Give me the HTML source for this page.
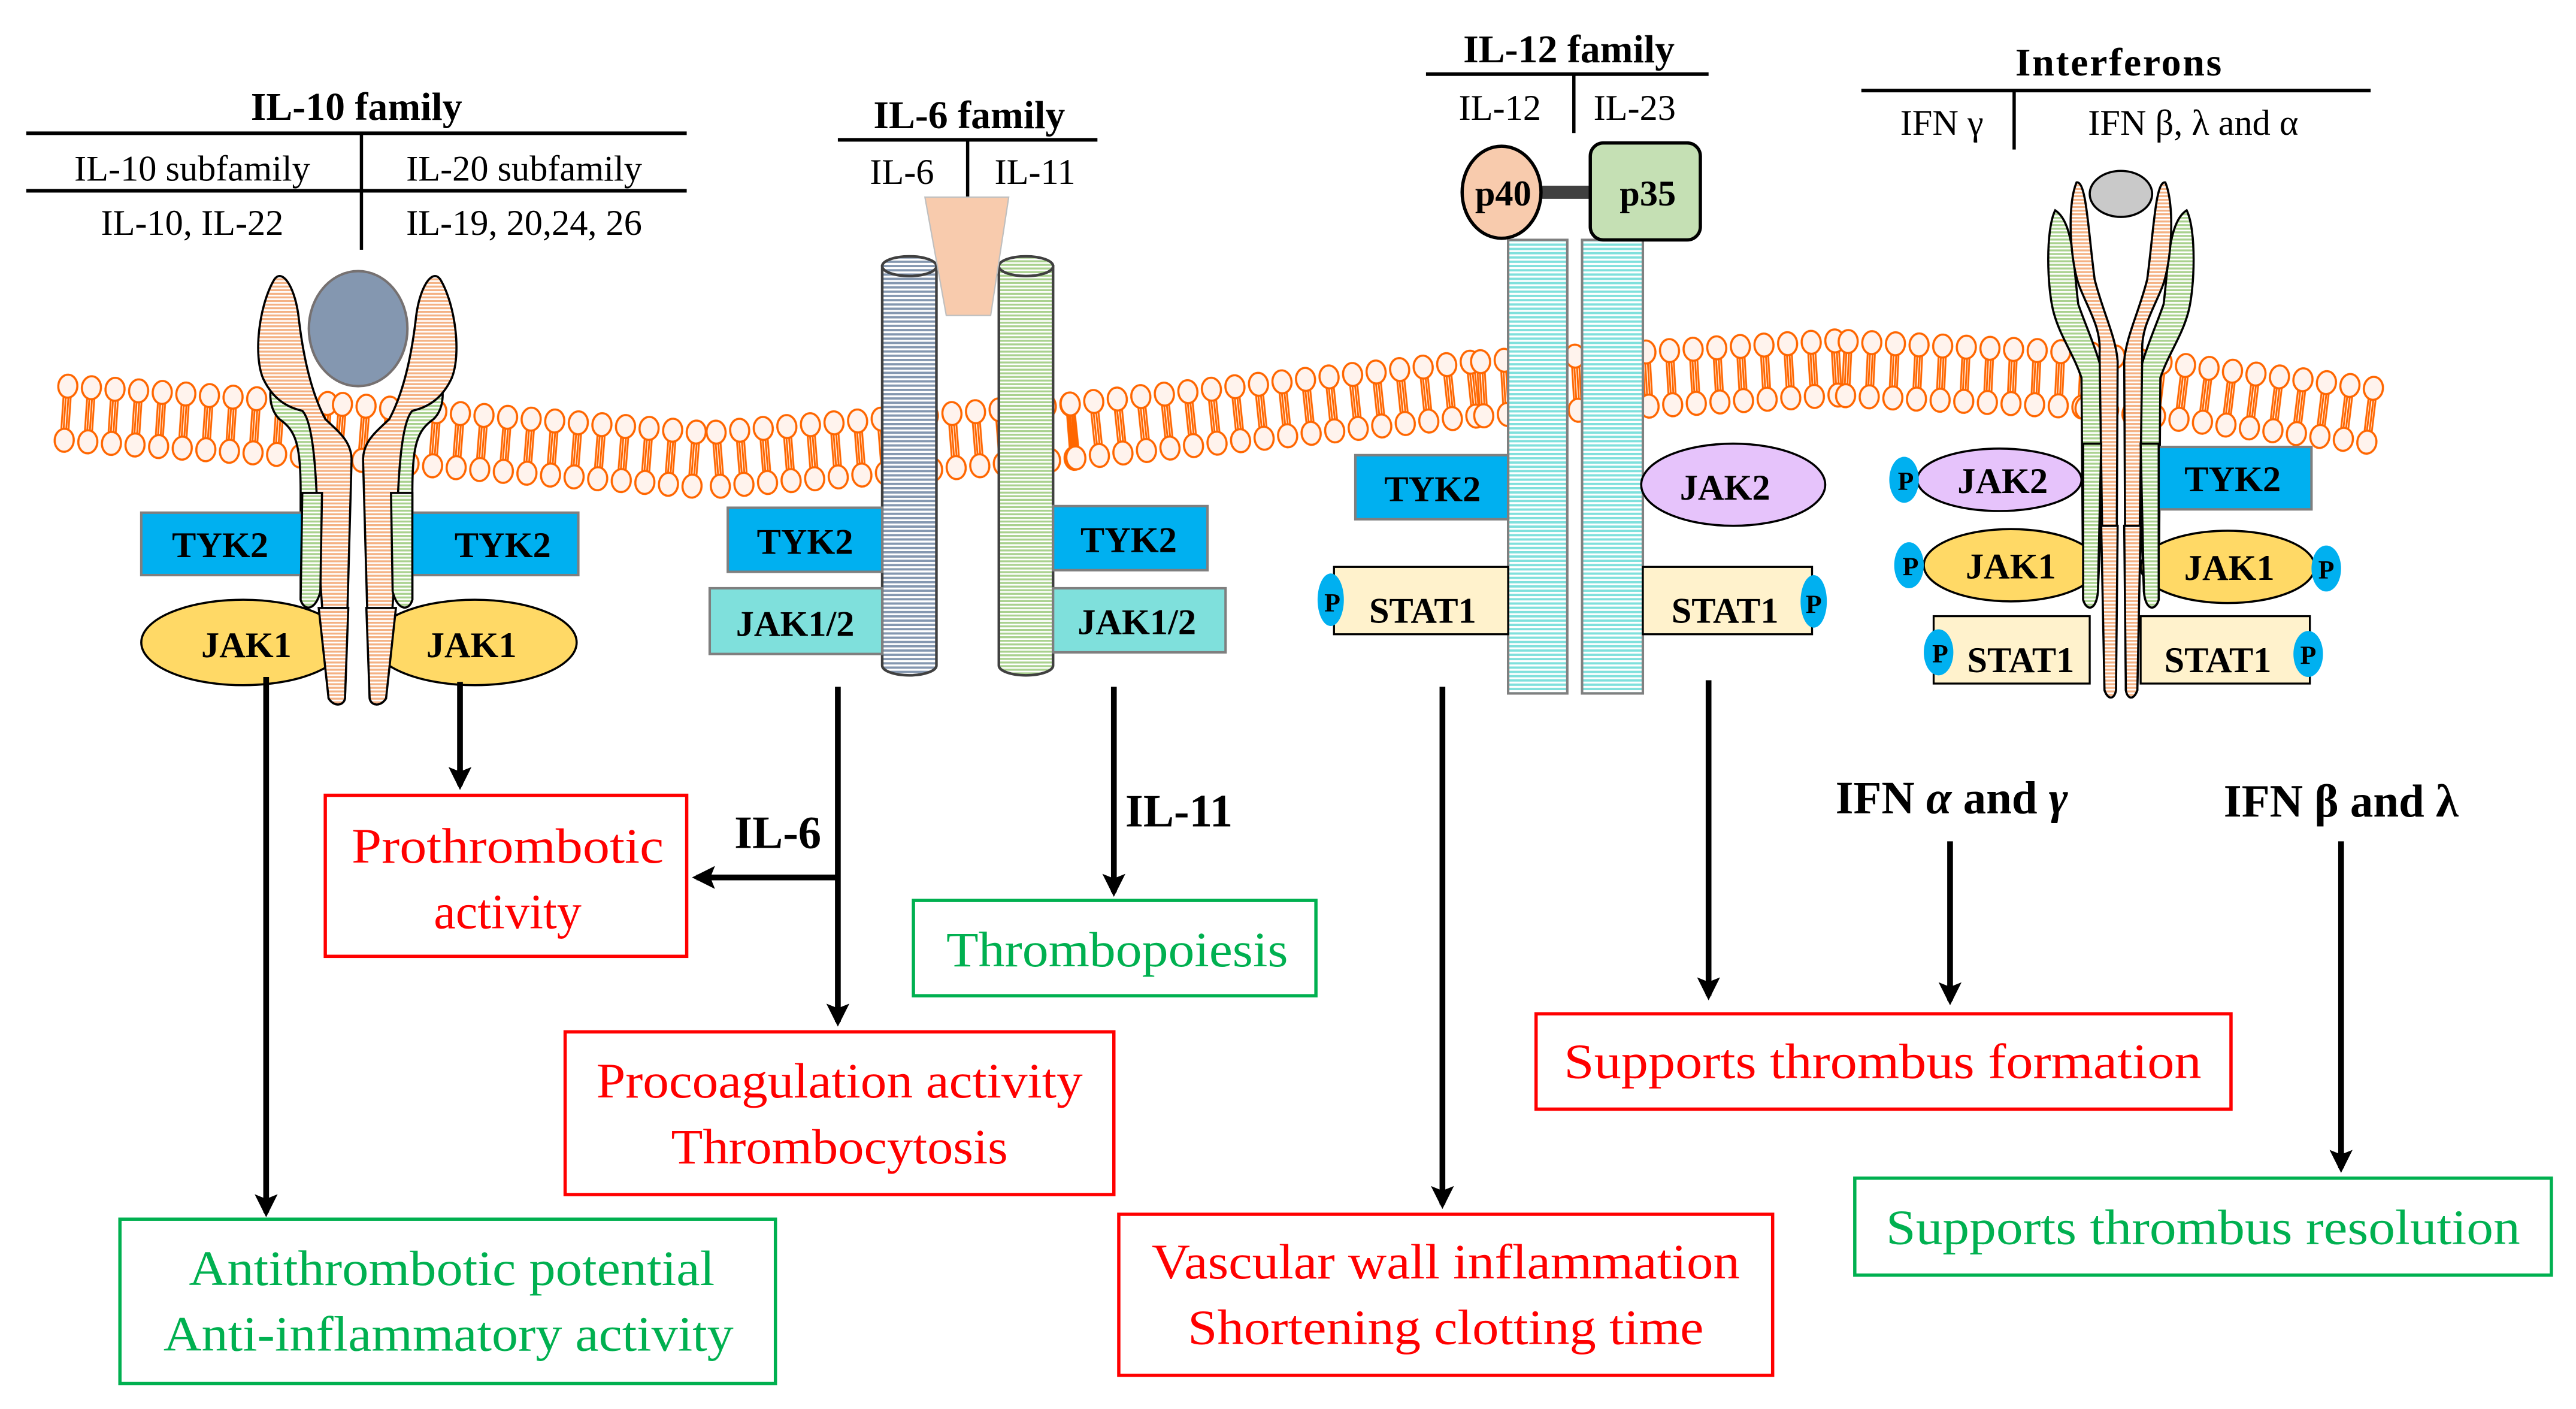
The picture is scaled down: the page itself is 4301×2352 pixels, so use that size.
<!DOCTYPE html>
<html><head><meta charset="utf-8"><style>
html,body{margin:0;padding:0;background:#fff;}
svg{display:block;}
text{font-family:"Liberation Serif",serif;}
</style></head><body>
<svg xmlns="http://www.w3.org/2000/svg" width="4301" height="2352" viewBox="0 0 1568 857.5" preserveAspectRatio="none">
<defs>
<pattern id="po" width="4" height="2.2" patternUnits="userSpaceOnUse"><rect width="4" height="2.2" fill="#fff"/><rect width="4" height="1.2" fill="#f4b183"/></pattern>
<pattern id="pg" width="4" height="2.2" patternUnits="userSpaceOnUse"><rect width="4" height="2.2" fill="#fff"/><rect width="4" height="1.2" fill="#a9d18e"/></pattern>
<pattern id="pb" width="4" height="2.6" patternUnits="userSpaceOnUse"><rect width="4" height="2.6" fill="#fff"/><rect width="4" height="1.4" fill="#8497b0"/></pattern>
<pattern id="pc" width="4" height="2.6" patternUnits="userSpaceOnUse"><rect width="4" height="2.6" fill="#fff"/><rect width="4" height="1.4" fill="#7fe0dc"/></pattern>
<pattern id="lip" x="0" y="-25" width="14.4" height="50" patternUnits="userSpaceOnUse">
<g stroke="#ff6600" stroke-width="1.1">
<line x1="5.0" y1="14" x2="5.0" y2="36"/><line x1="6.4" y1="14" x2="6.4" y2="36"/>
<line x1="8.0" y1="14" x2="8.0" y2="36"/><line x1="9.4" y1="14" x2="9.4" y2="36"/>
</g>
<ellipse cx="7.2" cy="8.5" rx="5.8" ry="7" fill="#fff3ed" stroke="#ff6600" stroke-width="1.3"/>
<ellipse cx="7.2" cy="41.5" rx="5.8" ry="7" fill="#fff3ed" stroke="#ff6600" stroke-width="1.3"/>
</pattern>
<marker id="ah" markerWidth="4" markerHeight="4" refX="3.2" refY="2" orient="auto" markerUnits="strokeWidth"><path d="M0,0 L4,2 L0,4 L0.8,2 z" fill="#000"/></marker>
</defs>
<rect width="1568" height="857.5" fill="#fff"/>

<!-- membrane -->
<g>
<g transform="translate(33,251) rotate(3.81)"><rect x="0" y="-25" width="173" height="50" fill="url(#lip)"/></g>
<g transform="translate(200,262) rotate(4.47)"><rect x="0" y="-25" width="231" height="50" fill="url(#lip)"/></g>
<g transform="translate(430,280) rotate(-4.50)"><rect x="0" y="-25" width="230" height="50" fill="url(#lip)"/></g>
<g transform="translate(646,263) rotate(-5.96)"><rect x="0" y="-25" width="259" height="50" fill="url(#lip)"/></g>
<g transform="translate(895,237) rotate(-3.35)"><rect x="0" y="-25" width="230" height="50" fill="url(#lip)"/></g>
<g transform="translate(1117,224) rotate(2.73)"><rect x="0" y="-25" width="159" height="50" fill="url(#lip)"/></g>
<g transform="translate(1264,231) rotate(6.93)"><rect x="0" y="-25" width="187" height="50" fill="url(#lip)"/></g>
</g>

<!-- IL-10 family header -->
<g fill="#000">
<text x="217" y="73" font-size="24" font-weight="bold" text-anchor="middle">IL-10 family</text>
<rect x="16" y="80" width="402" height="2.2"/>
<text x="117" y="110" font-size="22" text-anchor="middle">IL-10 subfamily</text>
<text x="319" y="110" font-size="22" text-anchor="middle">IL-20 subfamily</text>
<rect x="16" y="115" width="402" height="2.2"/>
<rect x="219" y="81" width="2" height="71"/>
<text x="117" y="143" font-size="22" text-anchor="middle">IL-10, IL-22</text>
<text x="319" y="143" font-size="22" text-anchor="middle">IL-19, 20,24, 26</text>
</g>

<!-- IL-10 receptor -->
<g stroke="#000" stroke-width="1.3">
<path d="M175,213 C165,225 160,245 170,255 C180,262 183,270 183,300 L183,365 C185,372 192,372 195,360 L196,260 C190,240 180,220 175,213 z" fill="url(#pg)"/>
<path d="M259,213 C269,225 274,245 264,255 C254,262 251,270 251,300 L251,365 C249,372 242,372 239,360 L238,260 C244,240 254,220 259,213 z" fill="url(#pg)"/>
<path d="M167,170 C158,185 154,215 160,230 C166,243 175,248 184,250 C192,258 193,300 194,340 L200,425 C203,430 209,430 210,425 L214,280 C214,268 205,262 198,255 C190,240 185,220 182,195 C180,175 172,163 167,170 z" fill="url(#po)"/>
<path d="M268,170 C277,185 281,215 275,230 C269,243 260,248 251,250 C243,258 242,300 241,340 L235,425 C232,430 226,430 225,425 L221,280 C221,268 230,262 237,255 C245,240 250,220 253,195 C255,175 263,163 268,170 z" fill="url(#po)"/>
</g>
<ellipse cx="218" cy="200" rx="30" ry="35" fill="#8497b0" stroke="#767171" stroke-width="1.5"/>
<rect x="86" y="312" width="104" height="38" fill="#00b0f0" stroke="#7f7f7f" stroke-width="1.5"/>
<rect x="244" y="312" width="108" height="38" fill="#00b0f0" stroke="#7f7f7f" stroke-width="1.5"/>
<g stroke="#000" stroke-width="1.3"><path d="M184,300 L183,365 C185,372 192,372 195,360 L196,300z" fill="url(#pg)"/><path d="M251,300 L251,365 C249,372 242,372 239,360 L238,300z" fill="url(#pg)"/></g>
<g font-size="22" font-weight="bold" text-anchor="middle"><text x="134" y="339">TYK2</text><text x="306" y="339">TYK2</text></g>
<ellipse cx="148" cy="391" rx="62" ry="26" fill="#ffd966" stroke="#000" stroke-width="1.3"/>
<ellipse cx="289" cy="391" rx="62" ry="26" fill="#ffd966" stroke="#000" stroke-width="1.3"/>
<g stroke="#000" stroke-width="1.3">
<path d="M194,370 L200,425 C203,430 209,430 210,425 L212,370z" fill="url(#po)"/>
<path d="M241,370 L235,425 C232,430 226,430 225,425 L223,370z" fill="url(#po)"/>
</g>
<g font-size="22" font-weight="bold" text-anchor="middle"><text x="150" y="400">JAK1</text><text x="287" y="400">JAK1</text></g>

<!-- IL-6 family -->
<g fill="#000">
<text x="590" y="78" font-size="24" font-weight="bold" text-anchor="middle">IL-6 family</text>
<rect x="510" y="84" width="158" height="2.2"/>
<text x="549" y="112" font-size="22" text-anchor="middle">IL-6</text>
<text x="630" y="112" font-size="22" text-anchor="middle">IL-11</text>
<rect x="588" y="85" width="2" height="35"/>
</g>
<g stroke="#404040" stroke-width="1.6">
<path d="M537,162 L537,405 A16.5,6 0 0 0 570,405 L570,162 z" fill="url(#pb)"/>
<ellipse cx="553.5" cy="162" rx="16.5" ry="6" fill="url(#pb)"/>
<path d="M608,162 L608,405 A16.5,6 0 0 0 641,405 L641,162 z" fill="url(#pg)"/>
<ellipse cx="624.5" cy="162" rx="16.5" ry="6" fill="url(#pg)"/>
</g>
<path d="M563,120 L614,120 L603,192 L576,192 z" fill="#f8cbad" stroke="#bfbfbf" stroke-width="0.8"/>
<g stroke="#7f7f7f" stroke-width="1.5">
<rect x="443" y="309" width="94" height="39" fill="#00b0f0"/>
<rect x="432" y="358" width="105" height="40" fill="#7fe0dc"/>
<rect x="641" y="308" width="94" height="39" fill="#00b0f0"/>
<rect x="641" y="358" width="105" height="39" fill="#7fe0dc"/>
</g>
<g font-size="22" font-weight="bold" text-anchor="middle">
<text x="490" y="337">TYK2</text><text x="687" y="336">TYK2</text>
<text x="484" y="387">JAK1/2</text><text x="692" y="386">JAK1/2</text>
</g>

<!-- IL-12 family -->
<g fill="#000">
<text x="955" y="38" font-size="24" font-weight="bold" text-anchor="middle">IL-12 family</text>
<rect x="868" y="44" width="172" height="2.2"/>
<text x="913" y="73" font-size="22" text-anchor="middle">IL-12</text>
<text x="995" y="73" font-size="22" text-anchor="middle">IL-23</text>
<rect x="957" y="45" width="2" height="36"/>
</g>
<rect x="918" y="146" width="36" height="276" fill="url(#pc)" stroke="#808080" stroke-width="1.5"/>
<rect x="963" y="146" width="37" height="276" fill="url(#pc)" stroke="#808080" stroke-width="1.5"/>
<rect x="936" y="113" width="34" height="8" fill="#404040"/>
<ellipse cx="914" cy="117" rx="24" ry="28" fill="#f8cbad" stroke="#000" stroke-width="2"/>
<rect x="968" y="87" width="67" height="59" rx="8" fill="#c5e0b4" stroke="#000" stroke-width="2"/>
<g font-size="22" font-weight="bold" text-anchor="middle"><text x="915" y="125">p40</text><text x="1003" y="125">p35</text></g>
<rect x="825" y="277" width="93" height="39" fill="#00b0f0" stroke="#7f7f7f" stroke-width="1.5"/>
<ellipse cx="1055" cy="295" rx="56" ry="25" fill="#e6c3fb" stroke="#000" stroke-width="1.3"/>
<rect x="812" y="345" width="106" height="41" fill="#fff2cc" stroke="#000" stroke-width="1.2"/>
<rect x="1000" y="345" width="103" height="41" fill="#fff2cc" stroke="#000" stroke-width="1.2"/>
<ellipse cx="810" cy="365" rx="8" ry="16" fill="#00b0f0"/>
<ellipse cx="1104" cy="366" rx="8" ry="16" fill="#00b0f0"/>
<g font-size="22" font-weight="bold" text-anchor="middle">
<text x="872" y="305">TYK2</text><text x="1050" y="304">JAK2</text>
<text x="866" y="379">STAT1</text><text x="1050" y="379">STAT1</text>
<text x="811" y="372" font-size="16">P</text><text x="1104" y="373" font-size="16">P</text>
</g>

<!-- Interferons -->
<g fill="#000">
<text x="1290" y="46" font-size="24" font-weight="bold" text-anchor="middle" letter-spacing="1">Interferons</text>
<rect x="1133" y="54" width="310" height="2.2"/>
<text x="1182" y="82" font-size="22" text-anchor="middle">IFN γ</text>
<text x="1335" y="82" font-size="22" text-anchor="middle">IFN β, λ and α</text>
<rect x="1225" y="55" width="2" height="36"/>
</g>
<ellipse cx="1291" cy="118" rx="19" ry="14" fill="#c9c9c9" stroke="#000" stroke-width="1.3"/>
<g stroke="#000" stroke-width="1.3">
<path d="M1251,128 C1245,140 1246,175 1250,190 C1254,205 1262,215 1267,230 L1268,365 C1270,372 1276,372 1277,360 L1282,240 C1280,220 1270,200 1265,185 C1262,160 1262,135 1251,128 z" fill="url(#pg)"/>
<path d="M1331,128 C1337,140 1336,175 1332,190 C1328,205 1320,215 1315,230 L1314,365 C1312,372 1306,372 1305,360 L1300,240 C1302,220 1312,200 1317,185 C1320,160 1320,135 1331,128 z" fill="url(#pg)"/>
<path d="M1264,111 C1258,125 1260,160 1266,175 C1272,190 1279,200 1278,215 L1281,420 C1283,426 1287,426 1288,420 L1289,220 C1288,205 1280,190 1275,170 C1271,140 1270,110 1264,111 z" fill="url(#po)"/>
<path d="M1318,111 C1324,125 1322,160 1316,175 C1310,190 1303,200 1304,215 L1301,420 C1299,426 1295,426 1294,420 L1293,220 C1294,205 1302,190 1307,170 C1311,140 1312,110 1318,111 z" fill="url(#po)"/>
</g>
<ellipse cx="1217" cy="292" rx="50" ry="19" fill="#e6c3fb" stroke="#000" stroke-width="1.3"/>
<rect x="1306" y="272" width="101" height="38" fill="#00b0f0" stroke="#7f7f7f" stroke-width="1.5"/>
<ellipse cx="1224" cy="344" rx="53" ry="22" fill="#ffd966" stroke="#000" stroke-width="1.3"/>
<ellipse cx="1356" cy="345" rx="53" ry="22" fill="#ffd966" stroke="#000" stroke-width="1.3"/>
<rect x="1177" y="375" width="95" height="41" fill="#fff2cc" stroke="#000" stroke-width="1.2"/>
<rect x="1303" y="375" width="103" height="41" fill="#fff2cc" stroke="#000" stroke-width="1.2"/>
<g stroke="#000" stroke-width="1.3">
<path d="M1268,270 L1268,365 C1270,372 1276,372 1277,360 L1279,270z" fill="url(#pg)"/>
<path d="M1314,270 L1314,365 C1312,372 1306,372 1305,360 L1303,270z" fill="url(#pg)"/>
<path d="M1279,320 L1281,420 C1283,426 1287,426 1288,420 L1289,320z" fill="url(#po)"/>
<path d="M1303,320 L1301,420 C1299,426 1295,426 1294,420 L1293,320z" fill="url(#po)"/>
</g>
<g fill="#00b0f0">
<ellipse cx="1159" cy="292" rx="9" ry="14"/><ellipse cx="1162" cy="344" rx="9" ry="14"/>
<ellipse cx="1416" cy="346" rx="9" ry="14"/><ellipse cx="1180" cy="397" rx="9" ry="14"/>
<ellipse cx="1405" cy="398" rx="9" ry="14"/>
</g>
<g font-size="22" font-weight="bold" text-anchor="middle">
<text x="1219" y="300">JAK2</text><text x="1359" y="299">TYK2</text>
<text x="1224" y="352">JAK1</text><text x="1357" y="353">JAK1</text>
<text x="1230" y="409">STAT1</text><text x="1350" y="409">STAT1</text>
<g font-size="16"><text x="1160" y="298">P</text><text x="1163" y="350">P</text><text x="1416" y="352">P</text><text x="1181" y="403">P</text><text x="1405" y="404">P</text></g>
</g>

<!-- Arrows -->
<g stroke="#000" stroke-width="3.5" fill="none" marker-end="url(#ah)">
<line x1="162" y1="412" x2="162" y2="738"/>
<line x1="280" y1="415" x2="280" y2="478"/>
<line x1="510" y1="418" x2="510" y2="622"/>
<line x1="510" y1="534" x2="424" y2="534"/>
<line x1="678" y1="418" x2="678" y2="543"/>
<line x1="878" y1="418" x2="878" y2="733"/>
<line x1="1040" y1="414" x2="1040" y2="606"/>
<line x1="1187" y1="512" x2="1187" y2="609"/>
<line x1="1425" y1="512" x2="1425" y2="711"/>
</g>
<g font-size="28" font-weight="bold">
<text x="447" y="516">IL-6</text>
<text x="685" y="503">IL-11</text>
<text x="1188" y="495" text-anchor="middle">IFN <tspan font-style="italic">α</tspan> and <tspan font-style="italic">γ</tspan></text>
<text x="1425" y="497" text-anchor="middle">IFN β and λ</text>
</g>

<!-- Outcome boxes -->
<g fill="none" stroke-width="2">
<rect x="198" y="484" width="220" height="98" stroke="#ff0000"/>
<rect x="73" y="742" width="399" height="100" stroke="#00b050"/>
<rect x="344" y="628" width="334" height="99" stroke="#ff0000"/>
<rect x="556" y="548" width="245" height="58" stroke="#00b050"/>
<rect x="681" y="739" width="398" height="98" stroke="#ff0000"/>
<rect x="935" y="617" width="423" height="58" stroke="#ff0000"/>
<rect x="1129" y="717" width="424" height="59" stroke="#00b050"/>
</g>
<g font-size="30" text-anchor="middle" fill="#ff0000">
<text x="309" y="525" textLength="190" lengthAdjust="spacingAndGlyphs">Prothrombotic</text>
<text x="309" y="565">activity</text>
<text x="511" y="668" textLength="296" lengthAdjust="spacingAndGlyphs">Procoagulation activity</text>
<text x="511" y="708" textLength="205" lengthAdjust="spacingAndGlyphs">Thrombocytosis</text>
<text x="880" y="778" textLength="358" lengthAdjust="spacingAndGlyphs">Vascular wall inflammation</text>
<text x="880" y="818" textLength="314" lengthAdjust="spacingAndGlyphs">Shortening clotting time</text>
<text x="1146" y="656" textLength="388" lengthAdjust="spacingAndGlyphs">Supports thrombus formation</text>
</g>
<g font-size="30" text-anchor="middle" fill="#00b050">
<text x="275" y="782" textLength="320" lengthAdjust="spacingAndGlyphs">Antithrombotic potential</text>
<text x="273" y="822" textLength="347" lengthAdjust="spacingAndGlyphs">Anti-inflammatory activity</text>
<text x="680" y="588" textLength="208" lengthAdjust="spacingAndGlyphs">Thrombopoiesis</text>
<text x="1341" y="757" textLength="386" lengthAdjust="spacingAndGlyphs">Supports thrombus resolution</text>
</g>
</svg>
</body></html>
